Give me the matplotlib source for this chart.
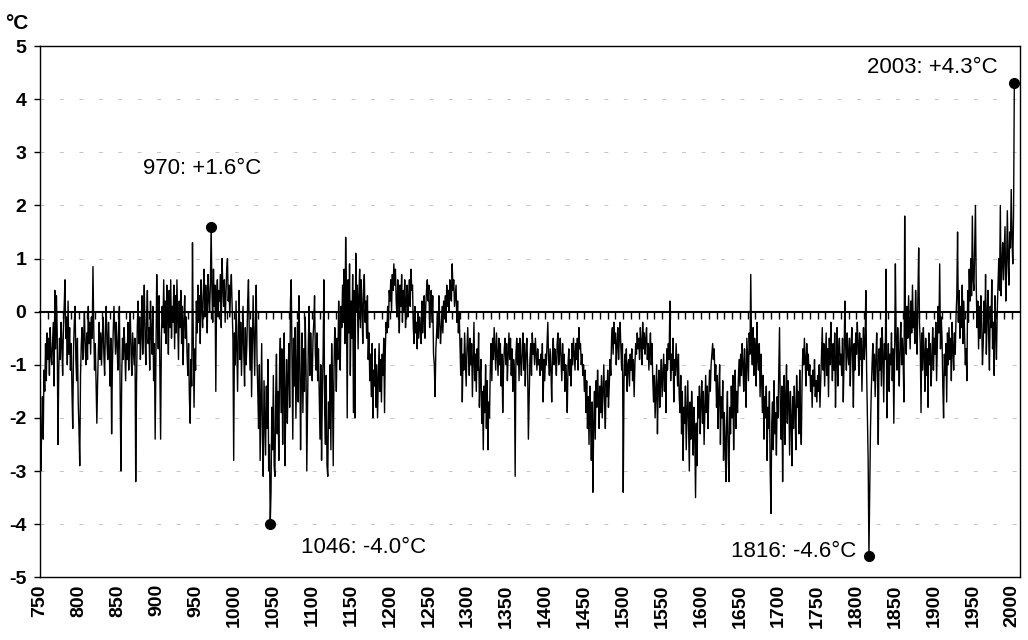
import numpy as np
from matplotlib import pyplot as plt

plt.rcParams['font.family'] = ['Liberation Sans', 'DejaVu Sans']

# yearly temperature anomaly (deg C), 750 .. 2003, one row per decade
years = np.arange(750, 2004)
anomaly = [
    -1.9, -3.0, -2.2, -1.6, -2.4, -1.1, -1.5, -0.6, -1.3, -0.4,
    -0.9, -0.5, -1.2, -0.3, -0.8, -1.0, -0.6, -0.2, -1.4, 0.4,
    -0.7, 0.3, -0.4, -2.5, -1.1, -0.5, -0.9, -0.2, -0.6, -1.2,
    -0.3, 0.1, 0.6, -0.5, -0.1, -1.0, 0.2, -0.8, -0.3, -1.1,
    -0.6, -1.5, -2.2, -0.7, -0.2, 0.1, -0.9, -1.3, -0.5, -1.7,
    -2.2, -2.9, -1.2, -0.6, -0.3, -0.9, -0.5, 0.0, -0.7, -1.0,
    -0.4, -0.9, 0.1, -0.6, -0.2, -0.8, -0.1, -0.5, 0.85, -0.3,
    -1.1, -0.6, -1.4, -2.1, -1.3, -0.7, -0.2, -0.9, -0.4, -1.0,
    -0.5, -0.1, -0.8, -1.2, -0.3, 0.1, -0.6, -0.9, -0.2, -0.7,
    -1.4, -0.5, -2.3, -1.0, -0.4, 0.1, -0.3, -0.8, -0.2, -0.6,
    -1.1, -0.4, 0.1, -1.6, -3.0, -1.2, -0.5, -0.9, -0.3, -0.7,
    -1.3, -0.6, -0.9, -0.2, -1.1, -0.5, 0.0, -0.8, -1.2, -0.4,
    -0.7, -1.0, -0.5, -3.2, -1.4, -0.3, 0.2, -0.6, -0.1, -0.9,
    -0.4, 0.3, -0.8, -0.2, 0.5, -0.5, -1.0, -0.1, 0.4, -0.6,
    -0.3, -1.1, 0.2, -0.4, -0.8, 0.1, -1.3, -0.6, -2.4, -0.9,
    0.7, -0.2, -0.7, 0.3, -1.0, -2.4, -0.5, 0.1, -0.3, 0.6,
    -0.4, 0.2, -0.6, 0.5, -0.1, -0.8, 0.4, -0.3, 0.6, -0.5,
    0.1, -0.2, 0.5, -0.7, 0.3, -0.4, 0.6, -0.1, -0.9, 0.2,
    -0.3, 0.4, -0.6, 0.1, -1.0, -0.2, 0.3, -0.5, -0.1, -0.8,
    -1.2, -0.6, -1.6, -2.1, -0.9, -1.4, 1.3, -0.5, -1.8, -0.7,
    -1.1, 0.2, -0.4, 0.5, -0.2, 0.3, -0.6, 0.6, 0.1, -0.3,
    0.4, 0.8, -0.1, 0.5, 0.2, -0.4, 0.7, 0.3, 0.0, 0.5,
    1.6, 0.4, -0.2, 0.8, 0.1, 0.5, -1.5, 0.3, 0.6, -0.1,
    0.4, 0.2, 0.7, -0.3, 1.0, 0.5, 0.1, 0.6, -0.2, 0.3,
    0.8, 1.0, 0.2, 0.5, -0.1, 0.4, 0.7, 0.1, -0.5, -2.8,
    -0.4, -1.0, 0.2, -0.6, -1.5, -0.3, 0.4, -0.9, -0.2, -1.2,
    -0.5, 0.1, -0.8, -1.4, -0.3, -1.0, -0.6, 0.2, 0.6, -0.4,
    -1.1, -0.3, -1.6, -0.7, 0.3, -0.5, -1.2, -0.2, 0.5, -0.9,
    -1.5, -2.2, -1.0, -2.8, -1.7, -0.6, -2.4, -3.1, -1.3, -2.0,
    -2.7, -1.4, -2.2, -0.9, -3.0, -2.5, -4.0, -3.4, -1.8, -2.6,
    -1.2, -2.9, -3.1, -1.6, -0.8, -2.3, -1.5, -2.8, -1.0, -0.5,
    -1.9, -0.7, -2.5, -1.3, -0.4, -2.9, -1.6, -0.9, -2.1, -1.2,
    -0.6, -1.8, 0.2, 0.6, -1.0, -2.4, -0.5, -1.4, -0.3, -2.0,
    -1.1, -0.2, -1.7, 0.3, -0.8, -2.6, -1.3, -0.4, -1.9, -0.7,
    -1.5, -0.1, -1.0, -3.0, -1.8, -0.6, 0.1, -1.2, -0.4, -0.9,
    -1.3, -0.5, -0.2, 0.3, -0.8, -1.1, -0.4, -1.3, -0.7, -1.5,
    -2.4, -1.0, -2.8, -1.6, -0.8, 0.6, -1.9, -2.5, -1.2, -2.9,
    -3.1, -1.7, -2.2, -1.0, -2.6, -0.6, -1.4, -2.9, -1.1, -0.3,
    -0.8, -1.5, -0.5, -0.9, 0.2, -0.4, -1.1, 0.1, -0.3, 0.5,
    -0.2, 0.8, -0.6, 1.4, 0.3, -2.0, 0.6, -0.4, 0.9, -1.2,
    0.2, -0.5, 0.7, -1.9, 0.4, -2.0, 1.1, 0.0, 0.5, -0.7,
    0.3, 0.8, -0.3, 0.6, 0.1, -0.6, 0.4, 0.7, -0.2, 0.2,
    -0.5, 0.3, -0.9, -0.4, -1.3, -0.8, -1.6, -0.6, -2.0, -1.1,
    -1.4, -0.7, -1.8, -1.0, -2.0, -1.3, -0.6, -1.5, -0.9, -1.7,
    -0.8, -1.2, -0.5, -1.9, -0.7, -0.2, -0.4, 0.1, -0.3, 0.4,
    0.2, 0.6, 0.0, 0.7, 0.4, 0.9, 0.5, 0.8, 0.2, -0.1,
    0.6, 0.3, -0.4, 0.5, 0.1, 0.7, -0.2, 0.4, 0.0, 0.6,
    -0.3, 0.2, 0.5, -0.1, 0.3, 0.6, 0.1, 0.8, 0.4, 0.5,
    -0.3, -0.6, 0.1, -0.4, -0.2, -0.7, 0.0, -0.5, -0.1, -0.3,
    -0.6, 0.2, -0.4, -0.1, 0.3, -0.5, 0.1, 0.4, 0.6, 0.2,
    0.5, -0.3, 0.1, 0.4, -0.2, 0.3, -0.8, -1.0, -1.6, -0.7,
    -0.4, 0.0, -0.5, 0.3, -0.2, -0.6, -0.3, 0.1, -0.4, 0.2,
    -0.1, 0.3, -0.2, 0.5, 0.1, 0.4, 0.0, 0.6, 0.3, 0.2,
    0.9, 0.4, 0.6, 0.1, 0.3, 0.5, -0.2, 0.2, -0.4, 0.0,
    -0.6, -1.2, -0.5, -1.7, -0.8, -1.1, -0.4, -0.9, -1.4, -0.7,
    -0.3, -0.8, -1.2, -0.5, -1.0, -0.6, -1.6, -0.9, -0.2, -1.3,
    -0.8, -1.5, -0.7, -1.1, -0.4, -1.8, -1.2, -0.9, -2.1, -1.5,
    -2.6, -1.4, -1.9, -1.0, -2.2, -1.3, -2.6, -1.7, -2.0, -1.1,
    -0.6, -1.3, -0.5, -0.9, -0.3, -0.7, -1.1, -0.4, -0.8, -1.2,
    -0.5, -1.0, -0.6, -1.4, -0.8, -1.9, -1.1, -0.7, -0.5, -1.0,
    -0.6, -1.3, -0.8, -0.4, -0.9, -0.5, -1.2, -0.7, -1.5, -0.9,
    -1.1, -3.1, -0.8, -0.5, -1.0, -0.6, -1.3, -0.5, -0.9, -1.2,
    -0.7, -0.4, -1.1, -0.6, -1.4, -0.8, -0.5, -1.0, -2.4, -1.6,
    -0.9, -0.6, -1.2, -0.4, -0.8, -0.6, -1.0, -0.5, -0.8, -1.1,
    -0.7, -1.0, -0.9, -1.2, -0.8, -1.1, -0.6, -1.7, -0.9, -1.3,
    -0.8, -1.0, -0.6, -0.2, -0.9, -1.2, -0.7, -1.1, -1.7, -0.8,
    -0.5, -1.0, -0.7, -0.9, -1.2, -0.6, -0.4, -1.0, -0.8, -0.5,
    -0.9, -1.3, -0.6, -1.1, -0.8, -1.5, -1.0, -1.3, -1.9, -1.0,
    -0.7, -1.2, -0.9, -1.4, -0.6, -1.0, -0.5, -0.8, -1.1, -0.6,
    -0.9, -0.5, -1.1, -0.3, -0.7, -0.6, -1.0, -0.8, -1.2, -1.0,
    -1.5, -1.1, -1.9, -1.3, -2.2, -1.6, -2.5, -1.4, -2.0, -2.8,
    -1.7, -3.4, -2.1, -1.5, -2.4, -1.3, -1.8, -1.1, -1.6, -2.2,
    -1.4, -1.9, -1.2, -2.0, -1.5, -1.0, -1.7, -2.2, -1.3, -1.6,
    -1.1, -1.8, -1.4, -0.9, -1.2, -0.5, -0.3, -0.8, -0.2, -0.6,
    -0.4, -1.0, -0.6, -0.3, -0.9, -0.5, -0.2, -0.7, -1.1, -0.6,
    -3.4, -1.3, -0.8, -1.2, -0.7, -1.5, -1.0, -0.9, -1.4, -0.8,
    -1.1, -0.7, -1.3, -0.9, -1.6, -1.0, -0.6, -0.8, -0.4, -0.7,
    -0.5, -0.9, -0.3, -0.6, -1.0, -0.2, -0.7, -0.4, -0.8, -0.5,
    -0.3, -0.9, -0.6, -1.1, -0.7, -0.4, -1.0, -0.6, -1.3, -1.7,
    -1.2, -2.0, -1.5, -1.0, -2.3, -1.4, -1.1, -1.8, -1.3, -0.9,
    -1.6, -1.2, -0.8, -1.5, -1.0, -1.9, -0.7, -1.1, -0.6, -0.9,
    0.2, -1.3, -0.8, -1.1, -0.5, -1.7, -0.9, -1.2, -0.6, -1.0,
    -1.4, -0.8, -1.6, -1.9, -1.2, -2.3, -1.5, -2.8, -1.8, -2.1,
    -1.4, -2.6, -1.9, -1.3, -2.2, -3.0, -1.7, -2.4, -1.5, -2.0,
    -2.7, -1.8, -2.3, -3.5, -2.1, -2.9, -1.6, -2.0, -1.4, -2.3,
    -1.7, -1.3, -2.1, -1.5, -2.5, -1.8, -1.2, -1.9, -1.4, -2.2,
    -1.6, -1.1, -1.5, -1.0, -0.8, -0.6, -0.9, -0.7, -1.3, -1.0,
    -1.8, -1.2, -2.2, -1.5, -1.0, -2.5, -1.6, -2.0, -1.3, -2.8,
    -1.9, -2.4, -3.2, -2.1, -1.5, -2.7, -3.2, -1.8, -2.3, -1.4,
    -2.0, -1.2, -2.6, -1.7, -1.1, -2.2, -1.5, -1.9, -1.3, -0.9,
    -1.4, -0.8, -1.2, -0.6, -1.0, -1.5, -0.7, -1.1, -1.8, -0.5,
    -0.9, -1.3, -0.4, -0.8, 0.7, -0.6, -1.0, -0.3, -1.2, -0.5,
    -0.7, -1.4, -0.2, -0.9, -1.1, -0.6, -1.6, -0.8, -1.3, -1.9,
    -1.2, -2.4, -1.6, -2.0, -1.4, -2.8, -1.8, -2.2, -1.5, -3.0,
    -3.8, -2.1, -1.7, -2.6, -1.3, -2.3, -1.9, -2.7, -1.6, -2.0,
    -1.1, -0.3, -1.8, -2.4, -1.4, -3.2, -1.9, -1.2, -2.5, -1.6,
    -1.0, -2.1, -1.3, -1.7, -2.7, -1.5, -2.0, -2.9, -1.6, -2.2,
    -1.4, -1.9, -2.6, -1.2, -1.8, -1.5, -2.3, -1.1, -2.0, -2.5,
    -1.3, -0.7, -1.0, -0.5, -0.9, -1.4, -0.6, -1.1, -0.8, -1.2,
    -1.0, -1.5, -1.2, -1.8, -1.1, -1.4, -0.9, -1.6, -1.3, -1.7,
    -1.2, -1.5, -1.0, -1.8, -1.3, -0.8, -0.3, -1.1, -0.6, -1.4,
    -0.9, -0.4, -1.2, -0.7, -1.6, -0.5, -1.0, -0.2, -0.8, -1.3,
    -0.6, -1.1, -0.4, -1.8, -0.9, -0.3, -1.4, -0.7, -0.5, -1.0,
    -0.8, -1.2, -0.5, -1.7, -0.9, 0.2, -0.6, -1.1, -0.4, -0.8,
    -1.0, -0.5, -1.4, -0.7, -0.3, -0.9, -1.8, -0.6, -1.1, -0.4,
    -0.8, -0.2, -0.6, -1.2, -0.4, -0.9, -0.5, -1.5, -0.7, -0.3,
    -0.9, -0.6, 0.4, -1.1, -2.0, -2.8, -4.6, -3.4, -2.2, -1.5,
    -1.0, -0.6, -1.3, -0.8, -1.6, -0.9, -0.4, -1.2, -2.5, -0.7,
    -1.1, -0.5, -1.4, -0.3, -0.8, -1.7, -0.6, -0.9, 0.8, -2.0,
    -1.2, -0.6, -1.5, -0.8, -1.0, -0.4, -1.3, -0.7, -2.1, -0.9,
    0.9, -0.5, -1.1, -0.3, -0.8, -1.4, -0.6, -0.2, -1.0, -0.5,
    -0.9, -1.7, 1.8, -0.4, -0.8, 0.1, -0.5, 0.3, -0.2, -0.7,
    0.2, -0.4, 0.5, -0.3, 0.0, -0.6, 0.4, -0.1, -0.8, 0.3,
    1.2, -0.2, -0.6, -1.9, -0.4, -1.1, -0.3, -0.8, -1.5, -0.5,
    -1.2, -0.7, -1.8, -0.4, -1.0, -0.6, -1.4, -0.9, -0.3, -1.1,
    -0.5, -0.8, -0.2, -1.3, -0.6, 0.1, -0.4, 0.9, -0.7, -0.1,
    -0.5, -1.4, -2.0, -0.8, -1.2, -0.6, -1.7, -0.4, -1.0, -0.3,
    -0.9, -0.5, -1.3, -0.2, -0.7, -1.1, -0.4, -0.8, -0.1, 0.3,
    1.5, -0.2, 0.4, -0.5, 0.1, -0.3, 0.5, -0.6, 0.2, -0.4,
    -1.0, -0.7, -1.3, 0.4, -0.2, 0.8, 0.2, 1.0, 0.3, 1.8,
    0.6, 0.4, 1.2, 2.0, 0.5, -0.3, 0.2, -0.7, 0.1, -0.5,
    0.3, -0.2, -1.0, -0.6, 0.2, -0.4, 0.7, -0.8, -0.1, 0.4,
    -0.5, -1.1, 0.1, -0.3, 0.6, -0.7, -0.2, -1.2, 0.3, -0.4,
    -0.9, 0.0, 0.5, 1.0, 0.4, 2.0, 0.3, 0.9, 1.3, 0.6,
    1.1, 1.6, 0.2, 0.8, 1.9, 1.0, 0.5, 1.5, 1.2, 2.3,
    1.4, 0.9, 1.8, 4.3,
]
assert len(anomaly) == len(years)

# highlighted extremes
event_years = [970, 1046, 1816, 2003]
event_values = [1.6, -4.0, -4.6, 4.3]
event_labels = ['970: +1.6°C', '1046: -4.0°C', '1816: -4.6°C', '2003: +4.3°C']
# label placement (offset in points, horizontal alignment)
event_offsets = [(-49, 42), (22, -17), (-9, 3), (-12, 11)]
event_ha = ['left', 'left', 'right', 'right']

x_ticks = list(range(750, 2001, 50))
y_ticks = list(range(-5, 6))


def plot_anomaly():
    fig = plt.figure(figsize=(10.28, 6.4), dpi=100)
    ax = fig.add_axes([0.039, 0.098, 0.953, 0.83])

    ax.plot(years, anomaly, color='black', linewidth=1.0)
    ax.plot(event_years, event_values, 'o', color='black', markersize=7)

    for yr, val, label, off, ha in zip(event_years, event_values, event_labels,
                                       event_offsets, event_ha):
        ax.annotate(label, xy=(yr, val), xytext=off, textcoords='offset points',
                    ha=ha, va='center', fontsize=16)

    ax.set_xlim(750, 2010)
    ax.set_ylim(-5, 5)

    ax.set_xticks(x_ticks)
    ax.set_xticklabels([str(t) for t in x_ticks], rotation=90,
                       fontsize=14, fontweight='bold')
    ax.tick_params(axis='x', length=0, pad=5)

    ax.set_yticks(y_ticks)
    ax.set_yticklabels([str(t) for t in y_ticks], fontsize=14, fontweight='bold')
    ax.tick_params(axis='y', direction='out', length=4, width=1, pad=6)

    for spine in ax.spines.values():
        spine.set_linewidth(1.0)

    # faint broken gridlines
    for yv in y_ticks:
        if yv in (-5, 0, 5):
            continue
        ax.axhline(yv, color='#c4c4c4', linewidth=0.7, dashes=(4, 16), zorder=0)

    # zero line with hanging decade ticks
    zero_ax = ax.secondary_xaxis(0.5)
    zero_ax.set_alignment('bottom')
    zero_ax.set_xticks(range(760, 2010, 10))
    zero_ax.tick_params(direction='out', length=5, width=1, labelbottom=False,
                        labeltop=False)
    zero_ax.spines['bottom'].set_linewidth(1.5)

    fig.text(0.005, 0.978, '°C', fontsize=15, fontweight='bold', va='top')

    fig.savefig('out.png', dpi=100)


if __name__ == '__main__':
    plot_anomaly()
